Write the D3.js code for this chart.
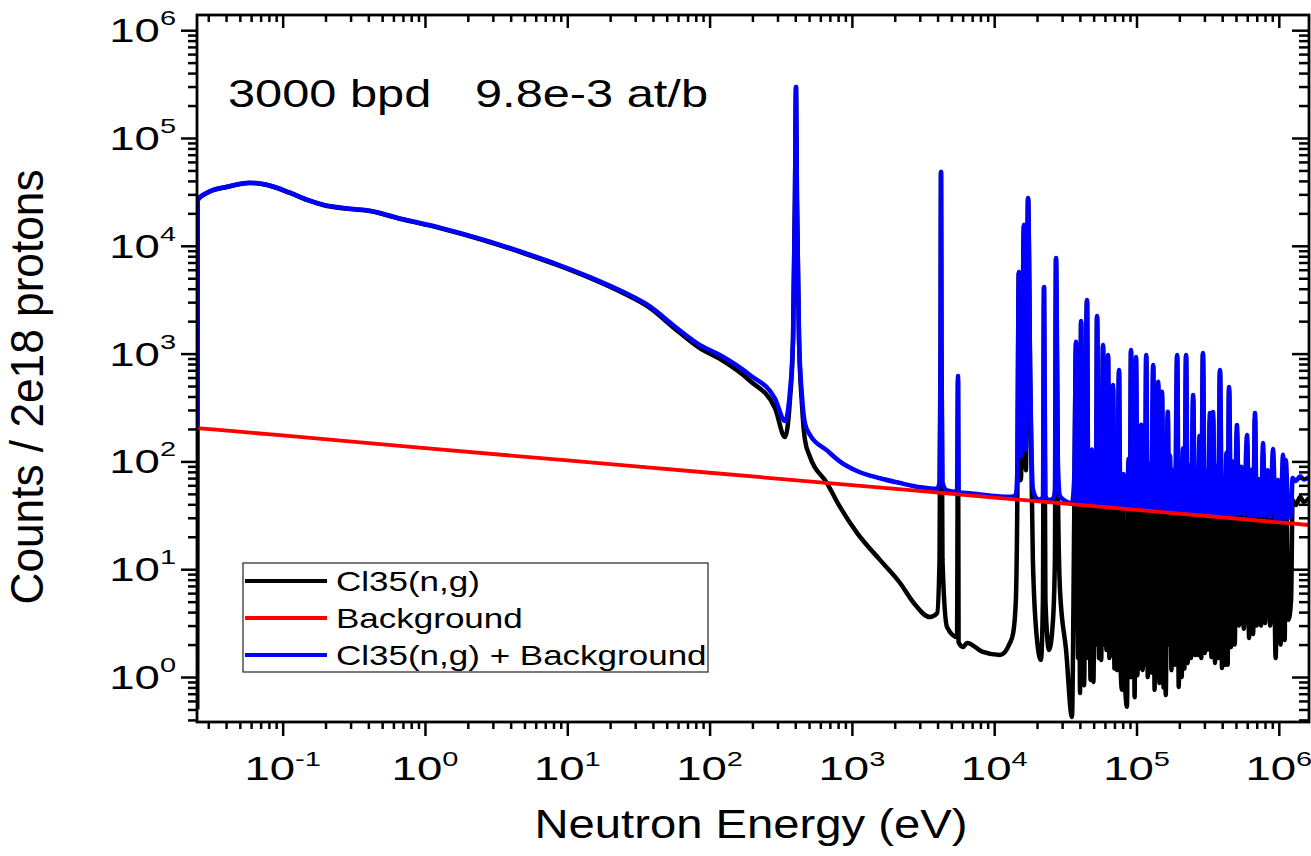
<!DOCTYPE html>
<html>
<head>
<meta charset="utf-8">
<script src="https://cdn.jsdelivr.net/npm/d3@7"></script>
<style>
    body { margin: 0; background: #fff; }
    svg { display: block; font-family: "Liberation Sans", Arial, sans-serif; }
</style>
</head>
<body>
<div id="chart"></div>
<script>
// axis limits (eV, counts)
const xDomain = [0.025, 1.63e6];
const yDomain = [0.3826, 1.383e6];
const xDecades = [-1, 0, 1, 2, 3, 4, 5, 6];
const yDecades = [0, 1, 2, 3, 4, 5, 6];

// red line: background counts vs neutron energy
const bgEnergy = [0.025, 0.1, 1, 10, 100, 1e3, 1e4, 1e5, 1e6, 1.63e6];
const bgCounts = [204, 174, 133, 102, 78.5, 60.3, 46.2, 35.5, 27.2, 25.7];

// black line: Cl35(n,g) counts, [energy eV, counts]
const cl35Points = [
    [0.0251, 0.5], [0.0253, 26600], [0.0294, 30900], [0.0406, 35100], [0.0589, 38300],
    [0.0776, 36600], [0.1125, 30900], [0.148, 26600], [0.192, 23900], [0.297, 21900],
    [0.410, 21000], [0.636, 18100], [1.27, 14600], [2.56, 11300], [4.89, 8570],
    [8.47, 6640], [14.4, 5030], [24.6, 3650], [38.1, 2650], [55.3, 1760],
    [85.7, 1120], [118, 894], [192, 560], [288, 313], [339, 168],
    [367, 372], [386, 1340], [398, 26600], [405, 297000], [411, 26600],
    [425, 1340], [446, 334], [468, 158], [508, 110], [668, 63],
    [825, 37.8], [1086, 21.7], [1575, 12.2], [2180, 7.45], [2690, 4.96],
    [3540, 3.6], [3970, 3.9], [4130, 12.2], [4200, 1080], [4230, 48400],
    [4260, 1080], [4330, 12.2], [4660, 2.91], [5480, 2.35], [5570, 569],
    [5620, 2.1], [6040, 1.9], [6440, 2.07], [8340, 1.71], [11000, 1.6],
    [12900, 2.07], [13600, 2.56], [14200, 5.18], [14500, 28.6], [14900, 5660],
    [15400, 67], [16200, 15550], [16700, 83], [17300, 27650], [17900, 606],
    [18700, 12.2], [20000, 2.2], [21300, 1.44], [22000, 5.18], [22400, 4100],
    [22900, 5.18], [24300, 1.78], [25900, 3.38], [26700, 12.2], [27200, 7670],
    [28100, 43.8], [29000, 6.41], [32000, 1.78], [35200, 0.426], [36500, 30],
    [37600, 1245], [38900, 1.5], [39500, 40], [40100, 0.71], [40800, 1970],
    [41800, 1.5], [42300, 60], [42800, 0.84], [44900, 3100], [45900, 1.5],
    [46600, 35], [47500, 0.94], [48600, 90], [49800, 0.9], [51000, 30],
    [51900, 2], [52800, 2195], [54500, 1.5], [55400, 45], [56500, 1.44],
    [58200, 1165], [59500, 2], [60500, 25], [61500, 1.78], [63100, 933],
    [64500, 1.5], [65600, 30], [66800, 1.6], [68400, 474], [70000, 1.2],
    [71500, 50], [73000, 1.16], [75400, 668], [77000, 1.5], [79100, 0.76],
    [81000, 40], [83000, 0.9], [85700, 0.53], [88000, 70], [89800, 1.0],
    [91500, 1045], [93200, 1.0], [95000, 40], [97000, 0.65], [99200, 895],
    [101500, 1.04], [103500, 45], [105500, 1.2], [108000, 184], [110500, 1.16],
    [112500, 35], [114500, 1.3], [117000, 937], [120000, 1.0], [123500, 60],
    [127000, 1.1], [131000, 751], [134000, 0.76], [136500, 40], [139000, 1.0],
    [142000, 513], [145000, 0.88], [147000, 30], [148500, 1.0], [151000, 408],
    [155000, 0.8], [157500, 45], [160500, 0.68], [166000, 255], [169000, 2],
    [172000, 80], [176000, 1.16], [181000, 50], [186000, 1.3], [193000, 939],
    [198000, 0.81], [203000, 40], [208000, 1.0], [212000, 100], [217000, 1.2],
    [223000, 939], [229000, 1.35], [235000, 60], [242000, 1.5], [250000, 381],
    [258000, 1.6], [264000, 50], [270000, 1.6], [277000, 140], [285000, 1.5],
    [293000, 981], [302000, 1.67], [310000, 50], [318000, 1.8], [328000, 250],
    [336000, 1.53], [345000, 256], [356000, 1.35], [365000, 60], [374000, 1.5],
    [386000, 674], [399000, 1.21], [410000, 40], [420000, 1.3], [428000, 90],
    [437000, 1.3], [447000, 460], [462000, 1.9], [475000, 70], [490000, 2.0],
    [508000, 188], [525000, 3.0], [545000, 60], [568000, 2.8], [598000, 147],
    [618000, 2.3], [640000, 55], [660000, 2.5], [680000, 252], [700000, 3.0],
    [725000, 40], [750000, 3.0], [775000, 120], [800000, 3.17], [835000, 55],
    [870000, 3.0], [911000, 103], [950000, 1.5], [985000, 40], [1030000, 2.0],
    [1070000, 88], [1100000, 2.2], [1120000, 76], [1170000, 3.4], [1220000, 5.2],
    [1250000, 43.8], [1320000, 39.4], [1410000, 46.7], [1500000, 42], [1630000, 45.7]
];

const seriesNames = ["Cl35(n,g)", "Background", "Cl35(n,g) + Background"];
const seriesColors = ["#000000", "#ff0000", "#0000ff"];
const noteLabels = ["3000 bpd", "9.8e-3 at/b"];
const xTitle = "Neutron Energy (eV)";
const yTitle = "Counts / 2e18 protons";

function logTicks(domain) {
    let major = [], minor = [];
    for (let d = -3; d <= 7; d++) {
        for (let k = 1; k <= 9; k++) {
            let v = k * Math.pow(10, d);
            if (v < domain[0] || v > domain[1]) continue;
            (k === 1 ? major : minor).push(v);
        }
    }
    return { major, minor };
}

class SpectrumPlot {
    constructor(_config = {}) {
        this.config = {
            parentElement: _config.parentElement,
            containerWidth: 1311,
            containerHeight: 856,
            margin: { top: 15, right: 2, bottom: 134, left: 197 },
            lineWidth: 4.5,
            stretch: 1.25,
            tickStretch: 1.38
        }
        this.initVis();
    }

    initVis() {
        let vis = this;
        let { parentElement, containerWidth, containerHeight, margin } = vis.config;

        vis.width = containerWidth - margin.left - margin.right;
        vis.height = containerHeight - margin.top - margin.bottom;

        vis.svg = d3.select(parentElement)
            .append("svg")
            .attr("width", containerWidth)
            .attr("height", containerHeight);

        vis.chart = vis.svg.append("g")
            .attr("transform", `translate(${margin.left},${margin.top})`);

        // scales

        vis.x = d3.scaleLog().domain(xDomain).range([0, vis.width]);
        vis.y = d3.scaleLog().domain(yDomain).range([vis.height, 0]);

        // blue series is the black one plus the background at the same energy
        vis.bgAt = d3.scaleLog().domain(bgEnergy).range(bgCounts);
        vis.series = [
            cl35Points,
            bgEnergy.map((e, i) => [e, bgCounts[i]]),
            cl35Points.map(([e, c]) => [e, c + vis.bgAt(e)])
        ];

        vis.renderVis();
    }

    renderVis() {
        let vis = this;
        let { lineWidth, stretch, tickStretch } = vis.config;

        vis.svg.append("clipPath").attr("id", "plot-clip")
            .append("rect")
            .attr("width", vis.width)
            .attr("height", vis.height);

        let line = d3.line()
            .x(d => vis.x(d[0]))
            .y(d => vis.y(d[1]))
            .curve(d3.curveMonotoneX);

        // draw order: black, blue, red on top
        let order = [0, 2, 1];
        vis.chart.append("g")
            .attr("clip-path", "url(#plot-clip)")
            .selectAll("path")
            .data(order)
            .join("path")
            .attr("d", i => line(vis.series[i]))
            .attr("fill", "none")
            .attr("stroke", i => seriesColors[i])
            .attr("stroke-width", i => i === 1 ? lineWidth - 0.7 : lineWidth)
            .attr("stroke-linejoin", "round");

        // axes: ticks out on bottom/left, in on top/right

        let xt = logTicks(xDomain), yt = logTicks(yDomain);
        let specs = [
            { make: () => d3.axisBottom(vis.x), pos: `translate(0,${vis.height})`, t: xt, len: [14, 7] },
            { make: () => d3.axisTop(vis.x), pos: "translate(0,0)", t: xt, len: [-13, -7] },
            { make: () => d3.axisLeft(vis.y), pos: "translate(0,0)", t: yt, len: [16, 9] },
            { make: () => d3.axisRight(vis.y), pos: `translate(${vis.width},0)`, t: yt, len: [-17, -10] }
        ];
        specs.forEach(s => {
            [[s.t.major, s.len[0]], [s.t.minor, s.len[1]]].forEach(([vals, len]) => {
                let g = vis.chart.append("g")
                    .attr("transform", s.pos)
                    .call(s.make().tickValues(vals).tickSize(len).tickFormat(""));
                g.select(".domain").remove();
                g.selectAll(".tick line").attr("stroke", "#000").attr("stroke-width", 2.5);
            });
        });

        vis.chart.append("rect")
            .attr("width", vis.width)
            .attr("height", vis.height)
            .attr("fill", "none")
            .attr("stroke", "#000")
            .attr("stroke-width", 2.8);

        // tick labels

        vis.chart.selectAll(".x-label")
            .data(xDecades)
            .join("text")
            .attr("class", "x-label")
            .attr("text-anchor", "middle")
            .attr("font-size", 33)
            .attr("transform", d => `translate(${vis.x(Math.pow(10, d))},${vis.height + 58}) scale(${tickStretch},1)`)
            .each(function (d) {
                let t = d3.select(this);
                t.append("tspan").text("10");
                t.append("tspan").attr("dy", -14).attr("font-size", 21).text(d);
            });

        vis.chart.selectAll(".y-label")
            .data(yDecades)
            .join("text")
            .attr("class", "y-label")
            .attr("text-anchor", "end")
            .attr("font-size", 33)
            .attr("transform", d => `translate(-21,${vis.y(Math.pow(10, d)) + 12}) scale(${tickStretch},1)`)
            .each(function (d) {
                let t = d3.select(this);
                t.append("tspan").text("10");
                t.append("tspan").attr("dy", -17).attr("font-size", 21).text(d);
            });

        // titles

        vis.svg.append("text")
            .attr("transform", "translate(751,838)")
            .attr("text-anchor", "middle")
            .attr("font-size", 40)
            .attr("textLength", 433)
            .attr("lengthAdjust", "spacingAndGlyphs")
            .text(xTitle);

        vis.svg.append("text")
            .attr("transform", "translate(43,387) rotate(-90)")
            .attr("text-anchor", "middle")
            .attr("font-size", 46)
            .attr("textLength", 435)
            .attr("lengthAdjust", "spacingAndGlyphs")
            .text(yTitle);

        vis.svg.selectAll(".note")
            .data(noteLabels)
            .join("text")
            .attr("class", "note")
            .attr("font-size", 39)
            .attr("transform", (d, i) => `translate(${i ? 475 : 228},107) scale(${stretch},1)`)
            .text(d => d);

        // legend

        let legend = vis.svg.append("g").attr("transform", "translate(243,563)");
        legend.append("rect")
            .attr("width", 465)
            .attr("height", 109)
            .attr("fill", "#fff")
            .attr("stroke", "#333")
            .attr("stroke-width", 1.3);

        let rows = legend.selectAll(".row")
            .data(seriesNames)
            .join("g")
            .attr("class", "row")
            .attr("transform", (d, i) => `translate(0,${18 + i * 37})`);
        rows.append("line")
            .attr("x1", 2).attr("x2", 84)
            .attr("stroke", (d, i) => seriesColors[i])
            .attr("stroke-width", lineWidth - 0.5);
        rows.append("text")
            .attr("font-size", 28)
            .attr("transform", `translate(93,10) scale(${stretch},1)`)
            .text(d => d);
    }
}

new SpectrumPlot({ parentElement: "#chart" });
</script>
</body>
</html>
